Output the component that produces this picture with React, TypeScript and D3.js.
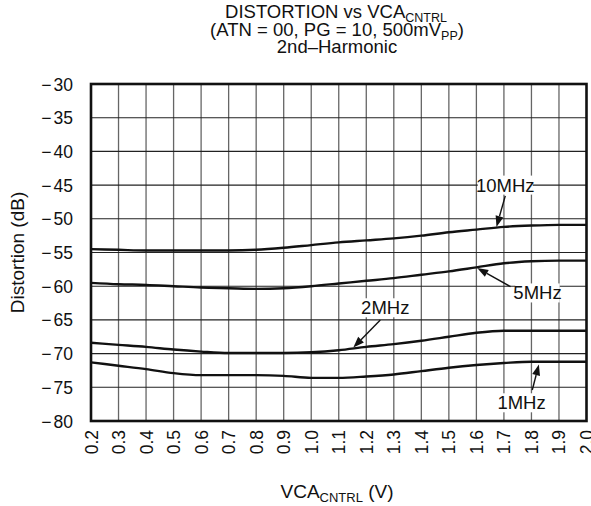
import React from "react";
import * as d3 from "d3";

const vca = [0.2, 0.3, 0.4, 0.5, 0.6, 0.7, 0.8, 0.9, 1.0, 1.1, 1.2, 1.3, 1.4, 1.5, 1.6, 1.7, 1.8, 1.9, 2.0];
const d10MHz = [-54.5, -54.6, -54.7, -54.7, -54.7, -54.7, -54.6, -54.3, -53.9, -53.5, -53.2, -52.9, -52.5, -52.0, -51.6, -51.2, -51.0, -50.9, -50.9];
const d5MHz = [-59.5, -59.7, -59.8, -60.0, -60.2, -60.3, -60.4, -60.3, -60.0, -59.6, -59.2, -58.8, -58.3, -57.8, -57.2, -56.6, -56.3, -56.2, -56.2];
const d2MHz = [-68.4, -68.7, -69.0, -69.4, -69.7, -69.9, -69.9, -69.9, -69.8, -69.5, -69.0, -68.6, -68.1, -67.5, -66.9, -66.6, -66.6, -66.6, -66.6];
const d1MHz = [-71.3, -71.8, -72.3, -72.9, -73.2, -73.2, -73.2, -73.3, -73.6, -73.6, -73.4, -73.1, -72.6, -72.1, -71.7, -71.4, -71.2, -71.2, -71.2];

const seriesList = [d10MHz, d5MHz, d2MHz, d1MHz];

const xTicks = ["0.2", "0.3", "0.4", "0.5", "0.6", "0.7", "0.8", "0.9", "1.0", "1.1", "1.2", "1.3", "1.4", "1.5", "1.6", "1.7", "1.8", "1.9", "2.0"];
const yTicks = [-30, -35, -40, -45, -50, -55, -60, -65, -70, -75, -80];

// annotation: label text, label center (x, y), arrow start, arrow tip (data coords)
const labelTexts = ["10MHz", "5MHz", "2MHz", "1MHz"];
const labelPos = [[1.705, -45.0], [1.822, -61.0], [1.269, -63.2], [1.764, -77.3]];
const arrowFrom = [[1.705, -46.6], [1.724, -60.07], [1.251, -65.0], [1.803, -75.4]];
const arrowTo = [[1.673, -51.2], [1.603, -57.3], [1.153, -69.1], [1.827, -71.6]];

const FONT = "'Liberation Sans', Arial, Helvetica, sans-serif";

export default function App() {
  const left = 91, right = 586.5, top = 84, bottom = 421;
  const x = d3.scaleLinear().domain([0.2, 2.0]).range([left, right]);
  const y = d3.scaleLinear().domain([-80, -30]).range([bottom, top]);

  const line = d3
    .line<number>()
    .x((_, i) => x(vca[i]))
    .y((d) => y(d))
    .curve(d3.curveMonotoneX);

  const arrowHead = (fx: number, fy: number, tx: number, ty: number) => {
    const x0 = x(fx), y0 = y(fy), x1 = x(tx), y1 = y(ty);
    const ang = Math.atan2(y1 - y0, x1 - x0);
    const L = 11, W = 4;
    const bx = x1 - L * Math.cos(ang), by = y1 - L * Math.sin(ang);
    const px = -Math.sin(ang) * W, py = Math.cos(ang) * W;
    return {
      line: { x1: x0, y1: y0, x2: bx, y2: by },
      poly: `${x1},${y1} ${bx + px},${by + py} ${bx - px},${by - py}`,
    };
  };

  return (
    <svg width={591} height={506} style={{ position: "absolute", left: 0, top: 0, background: "#fff" }} fontFamily={FONT}>
      <rect x={0} y={0} width={591} height={506} fill="#fff" />
      {/* title */}
      <text x={336} y={18} textAnchor="middle" fontSize={18.5} fill="#111">
        DISTORTION vs VCA<tspan fontSize={12.5} dy={4}>CNTRL</tspan>
      </text>
      <text x={337} y={36} textAnchor="middle" fontSize={18.5} fill="#111">
        (ATN = 00, PG = 10, 500mV<tspan fontSize={12.5} dy={4}>PP</tspan><tspan dy={-4}>)</tspan>
      </text>
      <text x={337} y={53} textAnchor="middle" fontSize={18.5} fill="#111">
        2nd–Harmonic
      </text>

      {/* grid */}
      {vca.slice(1, -1).map((v, i) => (
        <line key={"vx" + i} x1={x(v)} x2={x(v)} y1={top} y2={bottom} stroke="#666" strokeWidth={1.3} />
      ))}
      {yTicks.slice(1, -1).map((v, i) => (
        <line key={"hy" + i} x1={left} x2={right} y1={y(v)} y2={y(v)} stroke="#222" strokeWidth={1.1} />
      ))}

      {/* curves */}
      {seriesList.map((s, i) => (
        <path key={"s" + i} d={line(s) || ""} fill="none" stroke="#111" strokeWidth={2.4} />
      ))}

      {/* frame */}
      <rect x={left} y={top} width={right - left} height={bottom - top} fill="none" stroke="#111" strokeWidth={2.6} />

      {/* y ticks */}
      {yTicks.map((v, i) => (
        <text key={"yt" + i} x={73} y={y(v) + 6.5} textAnchor="end" fontSize={17.5} fill="#111">
          <tspan>−</tspan>
          <tspan dx={2}>{Math.abs(v)}</tspan>
        </text>
      ))}
      {/* x ticks */}
      {xTicks.map((t, i) => (
        <text
          key={"xt" + i}
          transform={`translate(${x(vca[i]) + 6.5},${430}) rotate(-90)`}
          textAnchor="end"
          fontSize={17.5}
          fill="#111"
        >
          {t}
        </text>
      ))}

      {/* axis titles */}
      <text transform={`translate(24,${(top + bottom) / 2}) rotate(-90)`} textAnchor="middle" fontSize={19} fill="#111">
        Distortion (dB)
      </text>
      <text x={337} y={498} textAnchor="middle" fontSize={19} fill="#111">
        VCA<tspan fontSize={13} dy={4}>CNTRL</tspan><tspan dy={-4}> (V)</tspan>
      </text>

      {/* annotations */}
      {labelTexts.map((t, i) => {
        const a = arrowHead(arrowFrom[i][0], arrowFrom[i][1], arrowTo[i][0], arrowTo[i][1]);
        const cx = x(labelPos[i][0]), cy = y(labelPos[i][1]);
        const w = t.length * 10.6 + 2;
        return (
          <g key={"an" + i}>
            <rect x={cx - w / 2} y={cy - 9.5} width={w} height={19} fill="#fff" />
            <text x={cx} y={cy + 6.5} textAnchor="middle" fontSize={18.5} fill="#111">
              {t}
            </text>
            <line {...a.line} stroke="#111" strokeWidth={1.4} />
            <polygon points={a.poly} fill="#111" />
          </g>
        );
      })}
    </svg>
  );
}
